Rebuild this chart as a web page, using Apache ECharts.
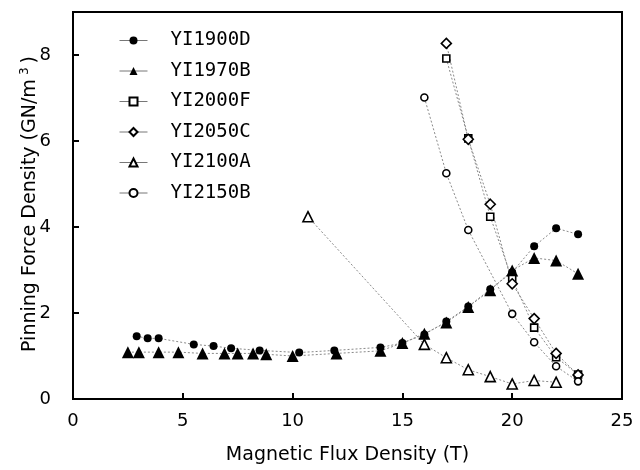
<!DOCTYPE html>
<html>
<head>
<meta charset="utf-8">
<script src="https://cdn.jsdelivr.net/npm/echarts@6/dist/echarts.min.js"></script>
<style>
  html, body { margin: 0; padding: 0; background: #fff; }
  #chart { width: 640px; height: 470px; }
</style>
</head>
<body>
<div id="chart"></div>
<script>
// Pinning force density versus magnetic flux density for six samples
const seriesNames = ['YI1900D', 'YI1970B', 'YI2000F', 'YI2050C', 'YI2100A', 'YI2150B'];

const fieldYI1900D = [2.9, 3.4, 3.9, 5.5, 6.4, 7.2, 8.5, 10.3, 11.9, 14, 15, 16, 17, 18, 19, 20, 21, 22, 23];
const forceYI1900D = [1.46, 1.41, 1.41, 1.27, 1.23, 1.18, 1.13, 1.08, 1.13, 1.2, 1.3, 1.5, 1.8, 2.15, 2.55, 2.95, 3.55, 3.97, 3.83];

const fieldYI1970B = [2.5, 3.0, 3.9, 4.8, 5.9, 6.9, 7.5, 8.2, 8.8, 10, 12, 14, 15, 16, 17, 18, 19, 20, 21, 22, 23];
const forceYI1970B = [1.09, 1.09, 1.09, 1.09, 1.06, 1.06, 1.06, 1.06, 1.04, 1.0, 1.06, 1.12, 1.3, 1.52, 1.78, 2.14, 2.53, 2.99, 3.28, 3.22, 2.91];

const fieldYI2000F = [17, 18, 19, 20, 21, 22, 23];
const forceYI2000F = [7.92, 6.06, 4.24, 2.79, 1.66, 0.97, 0.57];

const fieldYI2050C = [17, 18, 19, 20, 21, 22, 23];
const forceYI2050C = [8.27, 6.04, 4.53, 2.68, 1.87, 1.06, 0.56];

const fieldYI2100A = [10.7, 16, 17, 18, 19, 20, 21, 22];
const forceYI2100A = [4.24, 1.27, 0.96, 0.68, 0.52, 0.35, 0.43, 0.39];

const fieldYI2150B = [16, 17, 18, 20, 21, 22, 23];
const forceYI2150B = [7.01, 5.25, 3.93, 1.98, 1.32, 0.76, 0.41];

const xTicks = [0, 5, 10, 15, 20, 25];
const yTicks = [0, 2, 4, 6, 8];

const FONT = 'DejaVu Sans';
const LEGEND_FONT = 'DejaVu Sans Mono';

function pairs(xs, ys) { return xs.map((x, i) => [x, ys[i]]); }

// marker look per sample: [symbol, size, filled]
const markerStyle = {
  YI1900D: ['circle', 8, true],
  YI1970B: ['triangle', 12, true],
  YI2000F: ['rect', 7, false],
  YI2050C: ['diamond', 10, false],
  YI2100A: ['triangle', 10, false],
  YI2150B: ['circle', 7, false]
};

const dataBySample = {
  YI1900D: pairs(fieldYI1900D, forceYI1900D),
  YI1970B: pairs(fieldYI1970B, forceYI1970B),
  YI2000F: pairs(fieldYI2000F, forceYI2000F),
  YI2050C: pairs(fieldYI2050C, forceYI2050C),
  YI2100A: pairs(fieldYI2100A, forceYI2100A),
  YI2150B: pairs(fieldYI2150B, forceYI2150B)
};

const series = seriesNames.map(name => {
  const [sym, size, filled] = markerStyle[name];
  return {
    name: name,
    type: 'line',
    data: dataBySample[name],
    symbol: sym,
    symbolSize: size,
    showAllSymbol: true,
    animation: false,
    lineStyle: { color: '#8a8a8a', width: 1, type: [2, 2] },
    itemStyle: {
      color: filled ? '#000' : '#fff',
      borderColor: '#000',
      borderWidth: filled ? 0 : 1.6
    },
    emphasis: { disabled: true }
  };
});

const chart = echarts.init(document.getElementById('chart'), null, { renderer: 'canvas' });
chart.setOption({
  backgroundColor: '#fff',
  animation: false,
  textStyle: { fontFamily: FONT, fontSize: 18, color: '#000' },
  grid: {
    left: 73, right: 18, top: 12, bottom: 70,
    show: true, borderColor: '#000', borderWidth: 2, backgroundColor: 'transparent'
  },
  legend: {
    orient: 'vertical',
    left: 114, top: 26,
    itemWidth: 28, itemHeight: 10, itemGap: 11.5,
    lineStyle: { color: '#777', width: 1, type: 'solid' },
    textStyle: { fontFamily: LEGEND_FONT, fontSize: 19, color: '#000', padding: [0, 0, 0, 18] },
    data: seriesNames
  },
  // rotated y-axis title with a superscript exponent, centred beside the plot
  graphic: [{
    type: 'text',
    x: 30, y: 204,
    rotation: Math.PI / 2,
    style: {
      text: 'Pinning Force Density (GN/m{sup|3})',
      align: 'center', verticalAlign: 'middle',
      fontFamily: FONT, fontSize: 19, fill: '#000',
      rich: { sup: { fontFamily: FONT, fontSize: 12, fill: '#000', padding: [0, 4, 10, 4] } }
    }
  }],
  xAxis: {
    type: 'value',
    min: xTicks[0], max: xTicks[xTicks.length - 1], interval: 5,
    name: 'Magnetic Flux Density (T)',
    nameLocation: 'middle', nameGap: 47,
    nameTextStyle: { fontFamily: FONT, fontSize: 19, color: '#000' },
    axisLine: { show: true, lineStyle: { color: '#000', width: 2 } },
    axisTick: { show: true, inside: true, length: 6, lineStyle: { color: '#000', width: 2 } },
    axisLabel: { fontFamily: FONT, fontSize: 18, color: '#000', margin: 13 },
    splitLine: { show: false }
  },
  yAxis: {
    type: 'value',
    min: 0, max: 9, interval: 2,
    axisLine: { show: true, lineStyle: { color: '#000', width: 2 } },
    axisTick: { show: true, inside: true, length: 6, lineStyle: { color: '#000', width: 2 } },
    axisLabel: {
      fontFamily: FONT, fontSize: 18, color: '#000', margin: 22, showMaxLabel: false,
      formatter: v => (yTicks.indexOf(v) >= 0 ? String(v) : '')
    },
    splitLine: { show: false }
  },
  series: series
});
</script>
</body>
</html>
